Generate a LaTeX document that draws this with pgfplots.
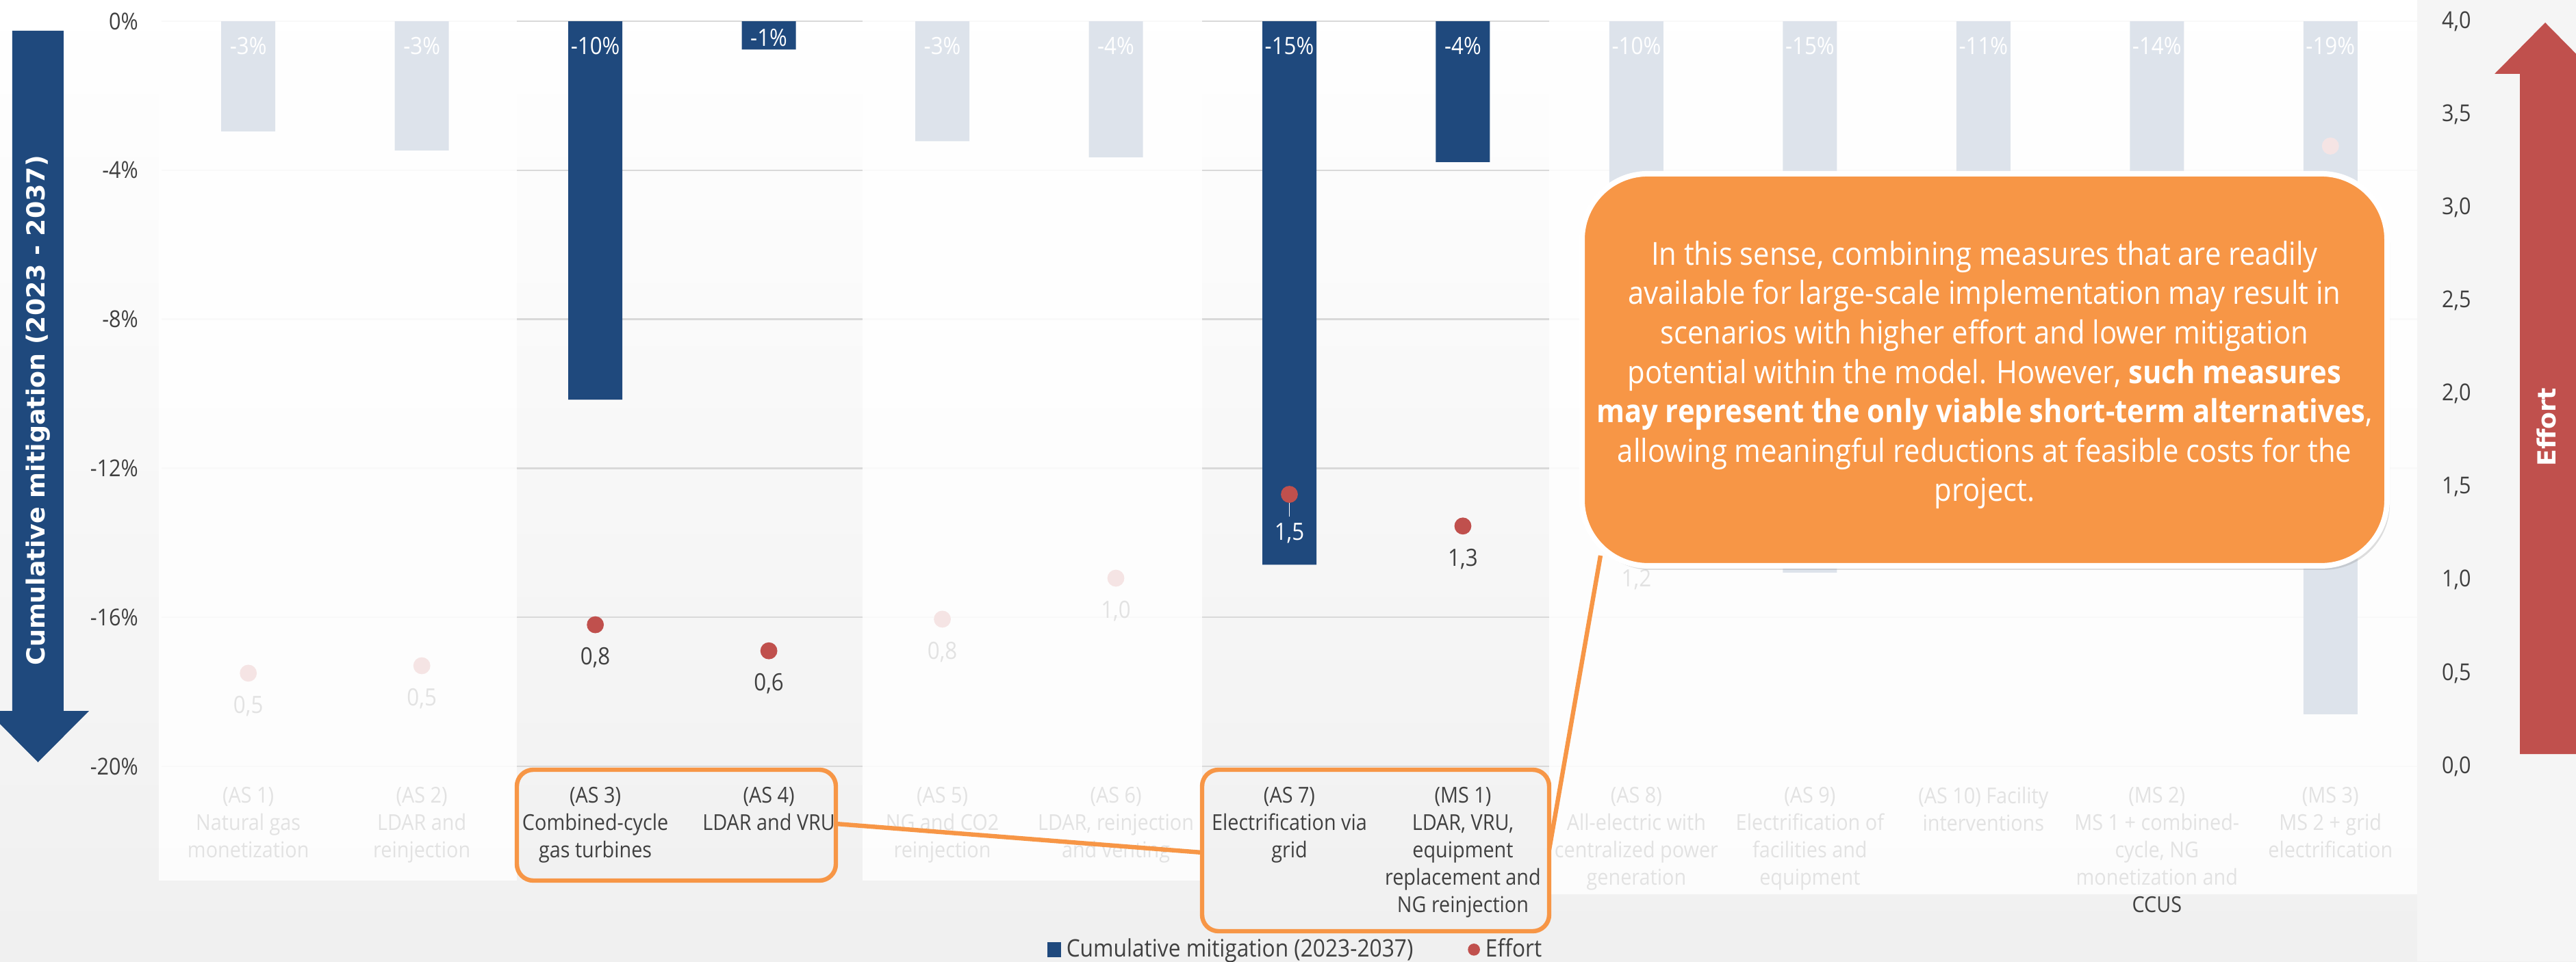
\documentclass[border=0pt]{standalone}
\usepackage{fontspec}
\usepackage{pgfplots}
\pgfplotsset{compat=1.18}
\usepackage{pgfplotstable}
\usetikzlibrary{shadows}
\setmainfont{Open Sans}
\newfontfamily\cond[FakeStretch=0.9]{Open Sans}
\newfontfamily\dvb{DejaVu Sans}
\definecolor{cblue}{HTML}{1F497D}
\definecolor{cred}{HTML}{C0504D}
\definecolor{corange}{HTML}{F79646}
\definecolor{ctext}{HTML}{404040}
\definecolor{cgrid}{HTML}{D9D9D9}

\pgfplotstableread{
x v
1 -2.96
2 -3.47
3 -10.16
4 -0.76
5 -3.22
6 -3.65
7 -14.59
8 -3.78
9 -10.0
10 -14.8
11 -11.0
12 -14.0
13 -18.6
}\bars
\pgfplotstableread{
x e
1 0.50
2 0.54
3 0.76
4 0.62
5 0.79
6 1.01
7 1.46
8 1.29
9 1.18
10 1.90
11 1.55
12 2.30
13 3.33
}\effort

\begin{document}
\begin{tikzpicture}[x=1pt,y=1pt]
\shade[top color=white, bottom color=black!6] (-59,-71.25) rectangle (881.75,280);
\fill[black!4] (823.75,-71.25) rectangle (881.75,280);

\begin{axis}[
  at={(0,0)}, anchor=south west, scale only axis,
  width=823.75pt, height=272.25pt,
  xmin=0.5, xmax=13.5, ymin=-20, ymax=0,
  xtick={1,...,13},
  xticklabels={
    {(AS 1)\\Natural gas\\monetization},
    {(AS 2)\\LDAR and\\reinjection},
    {(AS 3)\\Combined-cycle\\gas turbines},
    {(AS 4)\\LDAR and VRU},
    {(AS 5)\\NG and CO2\\reinjection},
    {(AS 6)\\LDAR, reinjection\\and venting},
    {(AS 7)\\Electrification via\\grid},
    {(MS 1)\\LDAR, VRU,\\equipment\\replacement and\\NG reinjection},
    {(AS 8)\\All-electric with\\centralized power\\generation},
    {(AS 9)\\Electrification of\\facilities and\\equipment},
    {(AS 10) Facility\\interventions},
    {(MS 2)\\MS 1 + combined-\\cycle, NG\\monetization and\\CCUS},
    {(MS 3)\\MS 2 + grid\\electrification}},
  ytick={-20,-16,-12,-8,-4,0},
  axis line style={draw=none}, major tick length=0pt,
  ymajorgrids, grid style={cgrid, line width=0.6pt},
  /pgf/number format/assume math mode=true,
  yticklabel={\pgfmathprintnumber{\tick}\%},
  yticklabel style={font=\cond\fontsize{8.5}{10}\selectfont, text=ctext, xshift=-5pt},
  xticklabel style={font=\cond\fontsize{8}{10}\selectfont, text=ctext, align=center, anchor=north, yshift=-4pt},
  clip=false,
]
\addplot[ybar, bar width=19.75pt, fill=cblue, draw=none, bar shift=0pt] table[x=x,y=v]{\bars};
\addplot[only marks, mark=none, point meta={\thisrow{v}},
  nodes near coords={\pgfmathprintnumber[fixed,precision=0]{\pgfplotspointmeta}\%},
  nodes near coords align={anchor=center},
  every node near coord/.append style={font=\cond\fontsize{8.7}{10}\selectfont, text=white, inner sep=0pt}]
  table[x=x, y expr={ifthenelse(\thisrow{v}>-1,-0.45,-0.66)}]{\bars};
\end{axis}

\begin{axis}[
  at={(0,0)}, anchor=south west, scale only axis,
  width=823.75pt, height=272.25pt,
  xmin=0.5, xmax=13.5, ymin=0, ymax=4,
  axis x line=none, axis y line*=right,
  axis line style={draw=none}, major tick length=0pt,
  ytick={0,0.5,...,4},
  /pgf/number format/assume math mode=true,
  yticklabel style={/pgf/number format/.cd, fixed, fixed zerofill, precision=1, use comma, /tikz/.cd,
     font=\cond\fontsize{8.5}{10}\selectfont, text=ctext, xshift=5.5pt},
  clip=false,
  legend columns=2,
  legend style={at={(0.5035,-0.246)}, anchor=center, draw=none, fill=none,
     font=\cond\fontsize{8.8}{10}\selectfont, text=ctext,
     /tikz/every even column/.append style={column sep=18pt}},
]
\addlegendimage{legend image code/.code={\fill[cblue] (0pt,-2.6pt) rectangle (4.6pt,2.6pt);}}
\addlegendentry{Cumulative mitigation (2023-2037)}
\addplot[only marks, mark=*, mark size=2.9pt, color=cred,
  legend image code/.code={\fill[cred] (2pt,0pt) circle (2pt);}] table[x=x,y=e]{\effort};
\addlegendentry{Effort}
\draw[white, line width=0.4pt] (axis cs:7,1.46) -- ++(0pt,-8pt);
\addplot[only marks, mark=none, point meta=y, forget plot,
  nodes near coords={\pgfmathprintnumber[fixed,fixed zerofill,precision=1,use comma]{\pgfplotspointmeta}},
  nodes near coords align={anchor=center},
  every node near coord/.append style={yshift=-12pt, font=\cond\fontsize{8.7}{10}\selectfont, text=ctext, inner sep=0pt},
  x filter/.expression={(x==7 || x>9.5) ? nan : x}] table[x=x,y=e]{\effort};
\addplot[only marks, mark=none, point meta=y, forget plot,
  nodes near coords={\pgfmathprintnumber[fixed,fixed zerofill,precision=1,use comma]{\pgfplotspointmeta}},
  nodes near coords align={anchor=center},
  every node near coord/.append style={yshift=-14.3pt, font=\cond\fontsize{8.7}{10}\selectfont, text=white, inner sep=0pt},
  x filter/.expression={x==7 ? x : nan}] table[x=x,y=e]{\effort};
\end{axis}

% fading overlays for non-highlighted scenarios
\fill[white, opacity=0.85] (-1,-41.75) rectangle (129.75,280);
\fill[white, opacity=0.85] (256,-41.75) rectangle (380,280);
\fill[white, opacity=0.85] (506.75,-46.75) rectangle (823.75,280);

% highlight boxes and connectors
\draw[corange, line width=1.6pt, rounded corners=6pt] (129.75,-1.25) rectangle (246.25,-41.75);
\draw[corange, line width=1.6pt, rounded corners=6pt] (380,-1.25) rectangle (506.75,-60.25);
\draw[corange, line width=1.6pt] (246.25,-21) -- (380,-31.5);
\draw[corange, line width=1.6pt] (506.75,-30.5) -- (525.5,77);

% callout
\node[draw=white, line width=2pt, fill=corange, rounded corners=24pt,
  minimum width=294pt, minimum height=143.25pt, inner sep=0pt,
  drop shadow={opacity=0.25, shadow xshift=1pt, shadow yshift=-1.5pt}] at (665.75,144.9) {};
\node[text=white, align=center, font=\cond\fontsize{11.6}{14.4}\selectfont] at (665.75,143) {%
In this sense, combining measures that are readily\\
available for large-scale implementation may result in\\
scenarios with higher effort and lower mitigation\\
potential within the model. However, \textbf{such measures}\\
\textbf{may represent the only viable short-term alternatives},\\
allowing meaningful reductions at feasible costs for the\\
project.};

% axis arrows
\fill[cblue] (-54.5,268.75) -- (-35.75,268.75) -- (-35.75,20.25) -- (-26.5,20.25) -- (-45.125,1.5) -- (-63.75,20.25) -- (-54.5,20.25) -- cycle;
\node[rotate=90, text=white, font=\dvb\bfseries\fontsize{9.1}{11}\selectfont] at (-45.125,130) {Cumulative mitigation (2023 - 2037)};
\fill[cred] (861.25,4.5) -- (890,4.5) -- (890,253) -- (889,253) -- (870.5,271.75) -- (852,253) -- (861.25,253) -- cycle;
\node[rotate=90, text=white, font=\dvb\bfseries\fontsize{9.1}{11}\selectfont] at (871,124) {Effort};

\pgfresetboundingbox
\useasboundingbox (-59,-71.25) rectangle (881.75,280);
\end{tikzpicture}
\end{document}
